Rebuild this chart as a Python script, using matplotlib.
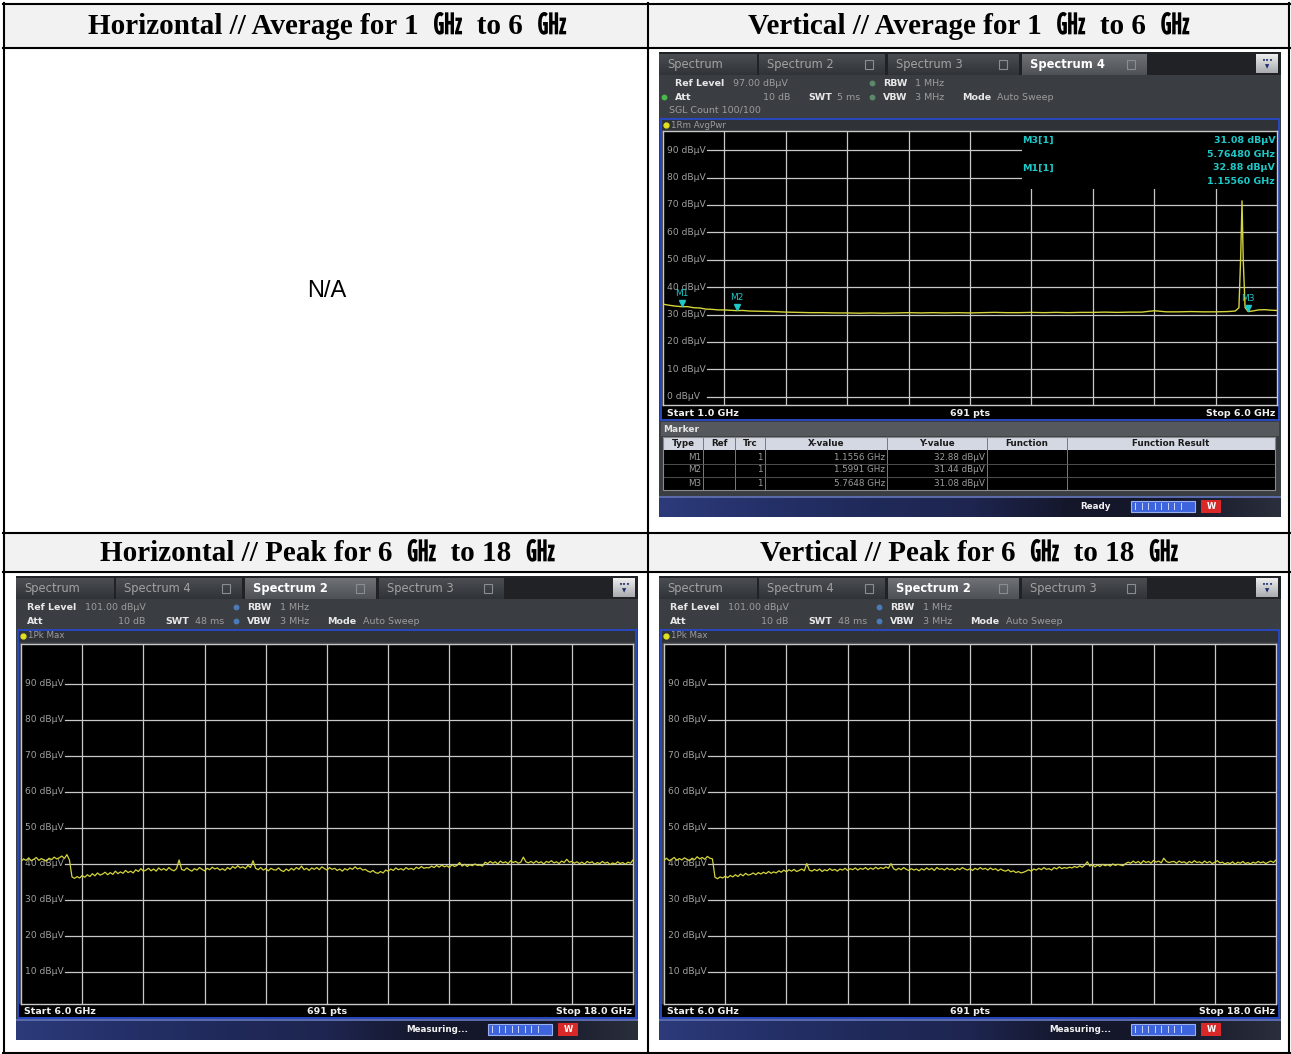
import numpy as np
import matplotlib.pyplot as plt
from matplotlib.patches import Rectangle
from matplotlib.transforms import offset_copy
from matplotlib.colors import LinearSegmentedColormap

W, H = 1291, 1054

# ---- measured data ---------------------------------------------------------
# vertical polarisation, average detector, 1-6 GHz (GHz / dBuV)
avg_freq = [1.00, 1.05, 1.10, 1.1556, 1.20, 1.25, 1.30, 1.35, 1.40, 1.45, 1.50,
            1.5991, 1.65, 1.70, 1.80, 1.90, 2.00, 2.10, 2.20, 2.30, 2.40, 2.50,
            2.60, 2.70, 2.80, 2.90, 3.00, 3.10, 3.20, 3.30, 3.40, 3.50, 3.60,
            3.70, 3.80, 3.90, 4.00, 4.10, 4.20, 4.30, 4.40, 4.50, 4.60, 4.70,
            4.80, 4.90, 5.00, 5.10, 5.20, 5.30, 5.40, 5.50, 5.60, 5.66, 5.69,
            5.705, 5.715, 5.725, 5.74, 5.7648, 5.80, 5.85, 5.90, 5.95, 6.00]
avg_level = [33.8, 33.4, 33.1, 32.88, 32.9, 32.5, 32.4, 32.0, 31.9, 31.7, 31.7,
             31.44, 31.5, 31.3, 31.2, 31.1, 30.9, 30.8, 30.7, 30.7, 30.6, 30.6,
             30.5, 30.6, 30.5, 30.6, 30.7, 30.6, 30.7, 30.6, 30.7, 30.6, 30.7,
             30.8, 30.7, 30.7, 30.8, 30.7, 30.8, 30.7, 30.8, 30.8, 30.9, 30.8,
             30.9, 30.9, 31.4, 31.0, 31.0, 31.1, 31.0, 31.0, 31.1, 31.3, 32.5,
             52.0, 71.5, 50.0, 32.6, 31.08, 31.3, 31.7, 31.8, 31.6, 31.5]

marker_name = ["M1", "M2", "M3"]
marker_freq = [1.1556, 1.5991, 5.7648]
marker_level = [32.88, 31.44, 31.08]

# peak-hold sweeps, 6-18 GHz, one reading per 50 MHz (one row per GHz)
peak_h_level = [
    40.6, 41.3, 40.9, 41.6, 40.8, 41.2, 41.7, 40.9, 41.4, 41.0, 40.7, 41.5, 41.1, 41.8, 41.3, 41.6, 42.1, 41.4, 42.5, 41.0,
    36.3, 35.9, 36.4, 36.0, 36.7, 36.2, 36.9, 36.4, 37.2, 36.6, 37.4, 36.8, 37.1, 37.6, 36.9, 37.5, 37.0, 37.9, 37.2, 37.7,
    37.3, 38.1, 37.5, 37.9, 37.4, 38.3, 37.8, 38.6, 37.9, 38.2, 38.7, 38.0, 38.5, 37.9, 38.8, 38.2, 38.6, 38.1, 38.9, 38.3,
    38.0, 38.6, 41.0, 38.4, 38.1, 38.8, 38.3, 37.9, 38.6, 38.2, 38.9, 38.4, 38.0, 38.7, 38.3, 39.0, 38.5, 38.8, 38.2, 38.6,
    38.1, 38.9, 38.4, 39.2, 38.7, 39.4, 38.8, 39.1, 38.6, 39.5, 38.9, 40.8, 38.7, 38.3, 38.9, 38.2, 38.6, 38.0, 38.7, 38.3,
    38.2, 38.8, 38.1, 37.8, 38.5, 38.0, 38.7, 38.2, 38.9, 38.4, 39.3, 38.3, 38.7, 38.1, 38.8, 38.4, 38.9, 38.3, 39.1, 38.6,
    38.2, 38.9, 38.4, 38.7, 38.1, 38.5, 37.9, 38.6, 38.2, 38.8, 38.4, 39.1, 38.5, 38.8, 38.2, 38.4, 37.9, 37.6, 38.1, 37.5,
    37.3, 37.8, 37.4, 38.2, 37.9, 38.5, 38.1, 38.8, 38.3, 38.6, 38.2, 38.9, 38.4, 38.7, 38.3, 39.0, 38.6, 39.2, 38.7, 38.9,
    38.8, 39.3, 38.9, 39.5, 39.0, 39.6, 39.1, 39.4, 38.9, 39.7, 39.2, 39.5, 40.3, 39.3, 39.8, 39.2, 39.7, 39.4, 39.9, 39.5,
    39.6, 39.3, 40.4, 40.0, 40.6, 40.1, 40.5, 39.9, 40.7, 40.2, 40.5, 40.0, 40.8, 40.3, 40.6, 40.1, 40.4, 41.8, 40.5, 40.2,
    40.6, 40.1, 40.7, 40.2, 40.5, 39.9, 40.6, 40.3, 40.8, 40.2, 40.5, 40.0, 40.7, 40.3, 41.2, 40.4, 40.6, 40.1, 40.5, 40.0,
    40.4, 39.9, 40.6, 40.2, 40.5, 39.8, 40.3, 40.0, 40.6, 40.1, 40.4, 39.7, 40.2, 39.9, 40.5, 40.0, 40.3, 39.8, 40.4, 40.1,
    41.0]
peak_v_level = [
    40.9, 41.5, 40.8, 41.2, 41.7, 40.9, 41.4, 41.0, 41.6, 41.2, 40.8, 41.5, 41.1, 41.9, 41.3, 41.7, 41.2, 42.0, 41.5, 41.3,
    36.2, 35.8, 36.3, 36.0, 36.5, 36.1, 36.7, 36.3, 36.9, 36.4, 37.1, 36.6, 37.3, 36.8, 37.0, 37.4, 36.9, 37.5, 37.1, 37.6,
    37.2, 37.8, 37.3, 37.7, 37.4, 38.0, 37.6, 38.2, 37.7, 38.3, 37.9, 38.4, 37.8, 38.1, 38.5, 38.0, 40.0, 38.2, 37.9, 38.4,
    38.0, 38.5, 37.8, 38.3, 38.0, 38.6, 38.1, 38.4, 37.9, 38.5, 38.2, 38.7, 38.1, 38.6, 38.3, 38.8, 38.2, 38.7, 38.4, 38.9,
    38.3, 38.8, 38.4, 39.0, 38.5, 38.9, 38.6, 39.1, 38.7, 40.0, 38.6, 38.2, 38.7, 38.3, 38.9, 38.4, 38.1, 38.6, 38.2, 38.5,
    38.0, 38.6, 38.2, 38.8, 38.3, 38.7, 38.1, 38.9, 38.4, 38.6, 38.2, 38.8, 38.3, 38.6, 38.1, 38.7, 38.3, 38.9, 38.5, 38.2,
    38.6, 38.1, 38.7, 38.3, 38.9, 38.4, 38.7, 38.2, 38.8, 38.3, 38.6, 38.0, 38.5, 38.1, 37.9, 38.3, 37.7, 38.0, 37.5, 37.8,
    37.4, 37.6, 37.9, 38.3, 37.9, 38.5, 38.2, 38.7, 38.3, 38.9, 38.4, 38.6, 38.2, 38.9, 38.5, 39.1, 38.6, 38.9, 38.7, 39.0,
    38.8, 39.2, 38.9, 39.4, 39.0, 39.6, 40.5, 39.3, 39.7, 39.1, 39.6, 39.2, 39.8, 39.4, 39.7, 39.3, 39.9, 39.5, 39.8, 39.6,
    39.4, 40.0, 40.4, 40.1, 40.7, 40.2, 40.6, 40.0, 40.8, 40.3, 40.6, 40.1, 40.9, 40.4, 40.7, 40.2, 41.5, 40.6, 40.3, 40.5,
    40.6, 40.1, 40.7, 40.3, 40.5, 40.0, 40.6, 40.2, 40.8, 40.3, 40.5, 40.1, 40.7, 40.2, 40.6, 40.0, 40.4, 40.8, 40.2, 40.4,
    39.9, 40.3, 40.0, 40.5, 39.8, 40.4, 40.1, 40.6, 40.0, 40.3, 39.9, 40.4, 40.1, 40.6, 40.2, 40.5, 40.0, 40.4, 40.7, 40.3,
    41.0]
peak_freq = np.linspace(6.0, 18.0, len(peak_h_level))

avg_ticks = [90, 80, 70, 60, 50, 40, 30, 20, 10, 0]
peak_ticks = [90, 80, 70, 60, 50, 40, 30, 20, 10]

titles = ["Horizontal // Average for 1  ㎓  to 6  ㎓",
          "Vertical // Average for 1  ㎓  to 6  ㎓",
          "Horizontal // Peak for 6  ㎓  to 18  ㎓",
          "Vertical // Peak for 6  ㎓  to 18  ㎓"]

# ---- colours -----------------------------------------------------------------
GRID = "#c8c8c8"
AXLBL = "#a0a0a0"
TRACE = "#d4d43c"
MARK = "#1ec8c8"
PANEL = "#3a3d42"
BLUE = "#2848c0"
INFO_DIM = "#9c9c9c"

fig = plt.figure(figsize=(W / 100, H / 100), dpi=100)
base = fig.add_axes([0, 0, 1, 1])
base.axis("off")


def rect(x0, y0, x1, y1, fc, ec="none", lw=0, z=1):
    base.add_patch(Rectangle((x0, y0), x1 - x0, y1 - y0, facecolor=fc,
                             edgecolor=ec, linewidth=lw, zorder=z))


def label(x, y, s, size=6.8, color=INFO_DIM, bold=False, ha="left", z=5, **kw):
    base.text(x, y, s, fontsize=size, color=color, ha=ha, va="center",
              fontweight="bold" if bold else "normal", zorder=z, **kw)


def grad(x0, y0, x1, y1, colors, vertical=True, z=2):
    cmap = LinearSegmentedColormap.from_list("g", colors)
    ramp = np.linspace(0, 1, 64)
    img = ramp[:, None] if vertical else ramp[None, :]
    base.imshow(img, cmap=cmap, extent=(x0, x1, y1, y0), aspect="auto",
                interpolation="bilinear", zorder=z)


def diagram(x0, y0, x1, y1, fmin, fmax, lmin, lmax, ticks):
    ax = fig.add_axes([x0 / W, 1 - y1 / H, (x1 - x0) / W, (y1 - y0) / H])
    ax.set_facecolor("black")
    ax.set_xlim(fmin, fmax)
    ax.set_ylim(lmin, lmax)
    ax.set_xticks([])
    ax.set_yticks([])
    for s in ax.spines.values():
        s.set_color(GRID)
        s.set_linewidth(1)
    for f in np.linspace(fmin, fmax, 11)[1:-1]:
        ax.axvline(f, color=GRID, lw=0.9, zorder=1)
    for lv in ticks:
        ax.axhline(lv, xmin=0.072, color=GRID, lw=0.9, zorder=1)
        ax.text(0.006, lv, f"{lv} dBµV", transform=ax.get_yaxis_transform(),
                fontsize=6.6, color=AXLBL, va="center", ha="left", zorder=1)
    return ax


TAB_X = [(0, 98), (100, 226), (229, 360), (363, 488)]


def screen(ox, oy, tabs, active, info, trace_name, frame_top, frame_bottom,
           footer, status_text, height):
    rect(ox, oy, ox + 622, oy + height, PANEL)
    # tab strip
    rect(ox, oy, ox + 622, oy + 23, "#202226", z=1.5)
    for i, ((a, b), name) in enumerate(zip(TAB_X, tabs)):
        on = i == active
        grad(ox + a, oy + 2, ox + b, oy + 23,
             ["#6e7176", "#4e5156"] if on else ["#4a4d52", "#303337"])
        label(ox + a + 8, oy + 12.5, name, size=8.3,
              color="white" if on else "#a2a2a2", bold=on)
        if i:
            rect(ox + b - 20, oy + 8, ox + b - 12, oy + 17, "none",
                 ec="#8a8d92", lw=0.8, z=6)
    grad(ox + 597, oy + 2, ox + 619, oy + 21, ["#eeeeee", "#a9abb0"])
    label(ox + 608, oy + 8, "•••", size=4.5, color="#1a2a6a", ha="center", bold=True)
    label(ox + 608, oy + 15, "▼", size=4, color="#1a2a6a", ha="center")
    # setting lines
    for x, y, s, kind in info:
        if kind == "dot":
            base.plot(ox + x, oy + y, "o", ms=3.2, color=s, zorder=5)
        elif kind == "b":
            label(ox + x, oy + y, s, color="#e8e8e8", bold=True)
        elif kind == "r":
            label(ox + x, oy + y, s, ha="right")
        else:
            label(ox + x, oy + y, s)
    # trace title row
    rect(ox + 3, oy + frame_top, ox + 619, oy + frame_top + 12, "#2f3236", z=1.5)
    base.plot(ox + 7, oy + frame_top + 6, "o", ms=3.5, color="#e0e020", zorder=5)
    label(ox + 12, oy + frame_top + 6, trace_name, size=6.3)
    # footer
    rect(ox + 3, oy + frame_bottom - 14, ox + 619, oy + frame_bottom, "black", z=1.5)
    fy = oy + frame_bottom - 7
    label(ox + 8, fy, footer[0], color="#f0f0f0", bold=True)
    label(ox + 311, fy, "691 pts", color="#f0f0f0", bold=True, ha="center")
    label(ox + 616, fy, footer[1], color="#f0f0f0", bold=True, ha="right")
    rect(ox + 2, oy + frame_top, ox + 620, oy + frame_bottom, "none",
         ec=BLUE, lw=1.4, z=4)
    # status bar
    sy0, sy1 = oy + height - 21, oy + height
    grad(ox, sy0, ox + 622, sy1,
         ["#2c3a7a", "#243068", "#202a5a", "#1e2550", "#14172a", "#14172a",
          "#2a2d3a"], vertical=False)
    rect(ox, sy0, ox + 622, sy0 + 1.5, "#5a6aa8", z=3)
    label(ox + 452, sy0 + 10.5, status_text, size=6.3, color="#f2f2f2",
          bold=True, ha="right")
    rect(ox + 472, sy0 + 5, ox + 536, sy0 + 16, "#3d64dc", ec="#9ab0f0", lw=0.8, z=3)
    for k in range(8):
        x = ox + 476 + k * 6.5
        rect(x, sy0 + 7, x + 1.4, sy0 + 14, "#c8d4ff", z=4)
    rect(ox + 542, sy0 + 4, ox + 562, sy0 + 17, "#d82828", z=3)
    label(ox + 552, sy0 + 10.5, "W", size=6, color="white", bold=True, ha="center")


# ---- table frame -------------------------------------------------------------
base.add_patch(Rectangle((0, 0), W, H, facecolor="white", zorder=0))
for (x0, y0, x1, y1) in [(4, 4, 648, 48), (648, 4, 1289, 48),
                         (4, 533, 648, 572), (648, 533, 1289, 572)]:
    rect(x0, y0, x1, y1, "#f2f2f2", z=0.5)

title_font = dict(family=["Liberation Serif", "Noto Sans CJK SC"],
                  weight="bold", size=21, color="black", ha="center",
                  va="center", zorder=5)
base.text(327, 26, titles[0], **title_font)
base.text(969, 26, titles[1], **title_font)
base.text(327, 553, titles[2], **title_font)
base.text(969, 553, titles[3], **title_font)
base.text(327, 291, "N/A", family="Liberation Sans", fontsize=17,
          ha="center", va="center", zorder=5)

# ---- vertical, 1-6 GHz screen ------------------------------------------------
OX, OY = 659, 52
screen(OX, OY, ["Spectrum", "Spectrum 2", "Spectrum 3", "Spectrum 4"], 3,
       [(16, 31, "Ref Level", "b"), (74, 31, "97.00 dBµV", ""),
        (213, 31, "#5a8a6a", "dot"), (224, 31, "RBW", "b"), (256, 31, "1 MHz", ""),
        (5, 45, "#4ab84a", "dot"), (16, 45, "Att", "b"), (131, 45, "10 dB", "r"),
        (149, 45, "SWT", "b"), (178, 45, "5 ms", ""), (213, 45, "#5a8a6a", "dot"),
        (224, 45, "VBW", "b"), (256, 45, "3 MHz", ""), (303, 45, "Mode", "b"),
        (338, 45, "Auto Sweep", ""), (10, 58, "SGL Count 100/100", "")],
       "1Rm AvgPwr", 67, 368, ("Start 1.0 GHz", "Stop 6.0 GHz"), "Ready", 465)

# marker table
rect(OX + 2, OY + 370, OX + 620, OY + 384, "#55585d", z=1.5)
label(OX + 4, OY + 377, "Marker", size=6.5, color="#e6e6e6", bold=True)
cols = [4, 44, 76, 106, 228, 328, 408, 616]
heads = ["Type", "Ref", "Trc", "X-value", "Y-value", "Function", "Function Result"]
rect(OX + 4, OY + 385, OX + 616, OY + 398, "#d4d8e2", z=1.5)
rect(OX + 4, OY + 398, OX + 616, OY + 438, "black", z=1.5)
for a, b, h in zip(cols[:-1], cols[1:], heads):
    label(OX + (a + b) / 2, OY + 391.5, h, size=6.3, color="#1a1a1a",
          bold=True, ha="center")
    base.plot([OX + b, OX + b], [OY + 385, OY + 438], color="#7a7a7a", lw=0.7, zorder=3)
for r, (nm, f, lv) in enumerate(zip(marker_name, marker_freq, marker_level)):
    yy = OY + 405 + r * 13
    label(OX + 42, yy, nm, size=6.3, ha="right")
    label(OX + 104, yy, "1", size=6.3, ha="right")
    label(OX + 226, yy, f"{f:.4f} GHz", size=6.3, ha="right")
    label(OX + 326, yy, f"{lv:.2f} dBµV", size=6.3, ha="right")
    base.plot([OX + 4, OX + 616], [yy + 6.5, yy + 6.5], color="#5a5a5a", lw=0.6, zorder=3)
rect(OX + 4, OY + 385, OX + 616, OY + 438, "none", ec="#8a8a8a", lw=0.8, z=3)

ax_avg = diagram(OX + 4, OY + 79, OX + 618, OY + 353, 1.0, 6.0, -3, 97, avg_ticks)
# marker readout block hides the grid behind it
ax_avg.add_patch(Rectangle((0.585, 0.79), 0.42, 0.22, transform=ax_avg.transAxes,
                           facecolor="black", zorder=1.5))
ax_avg.plot(avg_freq, avg_level, color=TRACE, lw=1.0, zorder=3)
tri = offset_copy(ax_avg.transData, fig=fig, y=4, units="dots")
ax_avg.plot(marker_freq, marker_level, "v", color=MARK, ms=5, transform=tri, zorder=4)
for nm, f, lv in zip(marker_name, marker_freq, marker_level):
    ax_avg.annotate(nm, (f, lv), xytext=(0, 13), textcoords="offset pixels",
                    color=MARK, fontsize=6.5, ha="center", va="center", zorder=4)
for k, idx in enumerate([2, 0]):
    ty = 0.965 - k * 0.1
    ax_avg.text(0.585, ty, f"{marker_name[idx]}[1]", transform=ax_avg.transAxes,
                color=MARK, fontsize=6.8, fontweight="bold", va="center", zorder=4)
    ax_avg.text(0.997, ty, f"{marker_level[idx]:.2f} dBµV", transform=ax_avg.transAxes,
                color=MARK, fontsize=6.8, fontweight="bold", va="center", ha="right", zorder=4)
    ax_avg.text(0.997, ty - 0.05, f"{marker_freq[idx]:.5f} GHz", transform=ax_avg.transAxes,
                color=MARK, fontsize=6.8, fontweight="bold", va="center", ha="right", zorder=4)

# ---- 6-18 GHz peak screens ---------------------------------------------------
for ox, levels in [(16, peak_h_level), (659, peak_v_level)]:
    oy = 576
    screen(ox, oy, ["Spectrum", "Spectrum 4", "Spectrum 2", "Spectrum 3"], 2,
           [(11, 31, "Ref Level", "b"), (69, 31, "101.00 dBµV", ""),
            (220, 31, "#4a7ab8", "dot"), (231, 31, "RBW", "b"), (264, 31, "1 MHz", ""),
            (11, 45, "Att", "b"), (129, 45, "10 dB", "r"), (149, 45, "SWT", "b"),
            (179, 45, "48 ms", ""), (220, 45, "#4a7ab8", "dot"), (231, 45, "VBW", "b"),
            (264, 45, "3 MHz", ""), (311, 45, "Mode", "b"), (347, 45, "Auto Sweep", "")],
           "1Pk Max", 54, 442, ("Start 6.0 GHz", "Stop 18.0 GHz"), "Measuring...", 464)
    ax = diagram(ox + 5, oy + 68, ox + 617, oy + 428, 6.0, 18.0, 1, 101, peak_ticks)
    ax.plot(peak_freq, levels, color=TRACE, lw=0.9, zorder=3)

# ---- table rules ---------------------------------------------------------------
lw = 1.5
for y in [3.5, 48, 533, 572, 1052.5]:
    base.plot([3, 1289.5], [y, y], color="black", lw=lw, zorder=6)
for x in [3.5, 648, 1289]:
    base.plot([x, x], [3, 1053], color="black", lw=lw, zorder=6)

base.set_xlim(0, W)
base.set_ylim(H, 0)
fig.savefig("out.png", dpi=100)
